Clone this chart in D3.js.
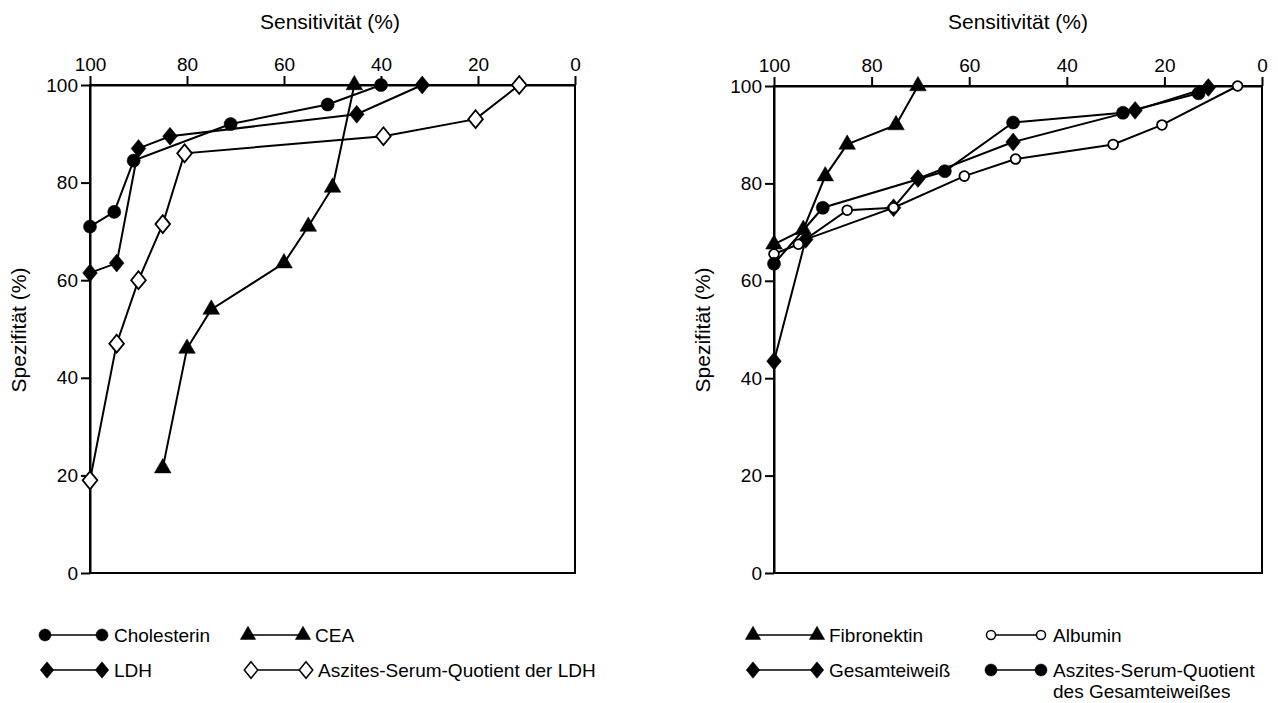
<!DOCTYPE html>
<html>
<head>
<meta charset="utf-8">
<script src="https://cdn.jsdelivr.net/npm/d3@7"></script>
<style>
  body { margin: 0; background: #fff; }
  svg { font-family: 'Liberation Sans', Arial, sans-serif; }
</style>
</head>
<body>
<svg id="chart" width="1278" height="703"></svg>
<script>
// left panel
const cholSens = [100, 95, 91, 71, 51, 40]
const cholSpez = [71, 74, 84.5, 92, 96, 100]
const ceaSens = [85, 80, 75, 60, 55, 50, 45.5]
const ceaSpez = [21.5, 46, 54, 63.5, 71, 79, 100]
const ldhSens = [100, 94.5, 90, 83.5, 45, 31.5]
const ldhSpez = [61.5, 63.5, 87, 89.5, 94, 100]
const ldhQuotSens = [100, 94.5, 90, 85, 80.5, 39.5, 20.5, 11.5]
const ldhQuotSpez = [19, 47, 60, 71.5, 86, 89.5, 93, 100]

// right panel
const fibSens = [100, 94, 89.5, 85, 75, 70.5]
const fibSpez = [67.5, 70.5, 81.5, 88, 92, 100]
const gesSens = [100, 93.5, 75.5, 70.5, 51, 26, 11]
const gesSpez = [43.5, 68.5, 75, 81, 88.5, 95, 99.7]
const albSens = [100, 95, 85, 75.5, 61, 50.5, 30.5, 20.5, 5]
const albSpez = [65.5, 67.5, 74.5, 75, 81.5, 85, 88, 92, 100]
const gesQuotSens = [100, 90, 65, 51, 28.5, 13]
const gesQuotSpez = [63.5, 75, 82.5, 92.5, 94.5, 98.5]

const tickValues = [100, 80, 60, 40, 20, 0]
const xTitle = 'Sensitivität (%)'
const yTitle = 'Spezifität (%)'

const svg = d3.select('#chart')

// diamond a bit wider than d3's own
const diamond = {
  draw(ctx, size) {
    const h = Math.sqrt(size) * 0.8
    const w = h * 0.82
    ctx.moveTo(0, -h)
    ctx.lineTo(w, 0)
    ctx.lineTo(0, h)
    ctx.lineTo(-w, 0)
    ctx.closePath()
  },
}
const shapes = {
  circle: [d3.symbolCircle, 135],
  triangle: [d3.symbolTriangle, 120],
  diamond: [diamond, 125],
  smallCircle: [d3.symbolCircle, 75],
}
const symbolPath = (shape, k = 1) =>
  d3.symbol().type(shapes[shape][0]).size(shapes[shape][1] * k)()

const panels = [
  {
    x0: 90, x1: 575, y0: 573, y1: 85, titleX: 330, yLabelX: 19,
    series: [
      { name: 'LDH-Quotient', sens: ldhQuotSens, spez: ldhQuotSpez, shape: 'diamond', open: true },
      { name: 'CEA', sens: ceaSens, spez: ceaSpez, shape: 'triangle' },
      { name: 'LDH', sens: ldhSens, spez: ldhSpez, shape: 'diamond' },
      { name: 'Cholesterin', sens: cholSens, spez: cholSpez, shape: 'circle' },
    ],
    legend: [
      { label: ['Cholesterin'], shape: 'circle', x: 45, y: 635, len: 57 },
      { label: ['CEA'], shape: 'triangle', x: 248, y: 635, len: 55 },
      { label: ['LDH'], shape: 'diamond', x: 47, y: 670, len: 55 },
      { label: ['Aszites-Serum-Quotient der LDH'], shape: 'diamond', open: true, x: 251, y: 670, len: 55 },
    ],
  },
  {
    x0: 774, x1: 1262, y0: 573, y1: 86, titleX: 1018, yLabelX: 703,
    series: [
      { name: 'Fibronektin', sens: fibSens, spez: fibSpez, shape: 'triangle' },
      { name: 'Gesamteiweiß', sens: gesSens, spez: gesSpez, shape: 'diamond' },
      { name: 'Albumin', sens: albSens, spez: albSpez, shape: 'smallCircle', open: true },
      { name: 'Quotient', sens: gesQuotSens, spez: gesQuotSpez, shape: 'circle' },
    ],
    legend: [
      { label: ['Fibronektin'], shape: 'triangle', x: 753, y: 635, len: 64 },
      { label: ['Albumin'], shape: 'smallCircle', open: true, x: 991, y: 635, len: 50 },
      { label: ['Gesamteiweiß'], shape: 'diamond', x: 753, y: 670, len: 64 },
      { label: ['Aszites-Serum-Quotient', 'des Gesamteiweißes'], shape: 'circle', x: 991, y: 670, len: 50 },
    ],
  },
]

panels.forEach((p) => {
  const x = d3.scaleLinear().domain([100, 0]).range([p.x0, p.x1])
  const y = d3.scaleLinear().domain([0, 100]).range([p.y0, p.y1])
  const g = svg.append('g')

  // frame
  g.append('rect')
    .attr('x', p.x0).attr('y', p.y1)
    .attr('width', p.x1 - p.x0).attr('height', p.y0 - p.y1)
    .attr('fill', 'none').attr('stroke', '#000').attr('stroke-width', 2)

  const top = g.append('g')
    .attr('transform', `translate(0,${p.y1})`)
    .call(d3.axisTop(x).tickValues(tickValues).tickSize(9).tickSizeOuter(0).tickPadding(5))
  const left = g.append('g')
    .attr('transform', `translate(${p.x0},0)`)
    .call(d3.axisLeft(y).tickValues(tickValues).tickSize(9).tickSizeOuter(0).tickPadding(3))
  ;[top, left].forEach((ax) => {
    ax.select('.domain').attr('stroke-width', 2)
    ax.selectAll('.tick line').attr('stroke-width', 2)
    ax.selectAll('.tick text').attr('font-size', 19).attr('font-family', null).attr('fill', '#000')
  })

  g.append('text')
    .attr('x', p.titleX).attr('y', 29)
    .attr('text-anchor', 'middle').attr('font-size', 21)
    .text(xTitle)
  g.append('text')
    .attr('transform', `translate(${p.yLabelX},330) rotate(-90)`)
    .attr('text-anchor', 'middle').attr('dy', '0.35em').attr('font-size', 21)
    .text(yTitle)

  const line = d3.line().x((d) => x(d[0])).y((d) => y(d[1]))

  p.series.forEach((s) => {
    const pts = d3.zip(s.sens, s.spez)
    g.append('path')
      .datum(pts)
      .attr('d', line)
      .attr('fill', 'none')
      .attr('stroke', '#000')
      .attr('stroke-width', 2)
  })
  p.series.forEach((s) => {
    const pts = d3.zip(s.sens, s.spez)
    g.selectAll(null)
      .data(pts)
      .join('path')
      .attr('transform', (d) => `translate(${x(d[0])},${y(d[1])})`)
      .attr('d', symbolPath(s.shape))
      .attr('fill', s.open ? '#fff' : '#000')
      .attr('stroke', '#000')
      .attr('stroke-width', s.open ? 1.8 : 0.5)
  })

  // legend
  p.legend.forEach((l) => {
    const lg = g.append('g').attr('transform', `translate(${l.x},${l.y})`)
    lg.append('line')
      .attr('x1', 0).attr('x2', l.len)
      .attr('stroke', '#000').attr('stroke-width', 1.6)
    ;[0, l.len].forEach((cx) => {
      lg.append('path')
        .attr('transform', `translate(${cx},0)`)
        .attr('d', symbolPath(l.shape, 0.85))
        .attr('fill', l.open ? '#fff' : '#000')
        .attr('stroke', '#000')
        .attr('stroke-width', l.open ? 1.5 : 0.5)
    })
    l.label.forEach((t, i) => {
      lg.append('text')
        .attr('x', l.len + 12).attr('y', i * 21)
        .attr('dy', '0.35em').attr('font-size', 19)
        .text(t)
    })
  })
})
</script>
</body>
</html>
